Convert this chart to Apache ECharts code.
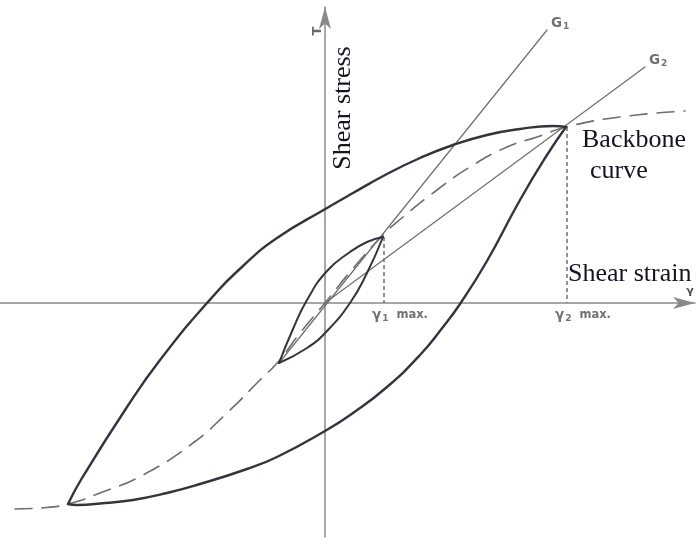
<!DOCTYPE html>
<html>
<head>
<meta charset="utf-8">
<script src="https://cdn.jsdelivr.net/npm/echarts@6/dist/echarts.min.js"></script>
<style>
html, body { margin: 0; padding: 0; background: #ffffff; }
#chart { width: 700px; height: 548px; }
</style>
</head>
<body>
<div id="chart"></div>
<script>
// Cyclic shear behaviour: hysteresis loops, backbone curve and secant moduli
// Coordinates are [shear strain γ, shear stress τ] in arbitrary units.

const backboneCurve = [
  [-31.0, -20.6], [-28.5, -20.5], [-25.7, -20.1], [-22.5, -19.0], [-18.2, -17.2],
  [-13.2, -14.0], [-9.8, -11.0], [-6.5, -7.7], [-4.7, -5.9], [-2.5, -3.0],
  [0, 0], [2.5, 3.1], [5.8, 6.8], [7.8, 8.6], [11.2, 11.3], [14.5, 13.6],
  [18.2, 15.6], [21.2, 16.6], [24.1, 17.6], [29.5, 18.6], [36.0, 19.2]
];

const largeLoopUpper = [
  [-25.7, -20.1], [-24.3, -17.5], [-19.8, -10.4], [-16.5, -5.7], [-11.8, 0],
  [-8.2, 3.7], [-4.8, 6.5], [0.2, 9.5], [2.8, 11.0], [6.2, 12.9], [9.5, 14.5],
  [12.8, 15.8], [16.2, 16.8], [19.5, 17.4], [22.8, 17.7], [24.1, 17.6]
];

const largeLoopLower = [
  [-25.7, -20.1], [-24.8, -20.2], [-22.0, -20.0], [-19.2, -19.7], [-15.8, -19.0],
  [-12.5, -18.1], [-7.8, -16.6], [-4.8, -15.4], [0, -12.8], [2.8, -11.0],
  [6.2, -8.4], [9.5, -5.2], [11.8, -2.4], [13.5, -0.1], [16.2, 4.2],
  [19.5, 10.3], [22.2, 14.8], [24.1, 17.6]
];

const smallLoopUpper = [
  [-4.6, -6.0], [-3.2, -2.6], [-1.8, 0.3], [0.2, 3.2], [2.5, 5.1], [4.2, 6.1], [5.8, 6.6]
];

const smallLoopLower = [
  [-4.6, -6.0], [-1.8, -4.5], [0.2, -2.8], [2.5, 0.0], [4.2, 3.0], [5.8, 6.6]
];

const secantG1 = [[-4.6, -6.0], [22.2, 27.3]];
const secantG2 = [[0, 0], [32.0, 23.6]];

// peak strains and the stresses reached there
const strainMax = [5.9, 24.2];
const stressAtMax = [6.6, 17.6];

// tick labels under the strain axis and secant names
const tickSymbol = ['γ', 'γ'];
const tickIndex = ['1', '2'];
const tickSuffix = ['max.', 'max.'];
const secantName = ['G', 'G'];
const secantIndex = ['1', '2'];

const loopColor = '#34343f';
const thinColor = '#6e6e6e';
const labelGrey = '#4e4e4e';

const chart = echarts.init(document.getElementById('chart'), null, { renderer: 'canvas' });

function curve(data, color, width, dash, smooth) {
  return {
    type: 'line',
    data: data,
    symbol: 'none',
    showSymbol: false,
    smooth: smooth,
    clip: false,
    silent: true,
    lineStyle: {
      color: color,
      width: width,
      type: dash || 'solid',
      cap: 'round',
      join: 'round'
    },
    z: 3
  };
}

const series = [];

// backbone (dashed)
series.push(curve(backboneCurve, thinColor, 1.6, [17, 10], 0.5));

// secant lines
series.push(curve(secantG1, thinColor, 1.2, null, false));
series.push(curve(secantG2, thinColor, 1.2, null, false));

// dashed verticals from each peak down to the strain axis
strainMax.forEach(function (g, i) {
  series.push({
    type: 'line',
    data: [[g, stressAtMax[i]], [g, 0]],
    symbol: 'none',
    silent: true,
    clip: false,
    lineStyle: { color: '#7a7a7a', width: 1.6, type: [4, 3] },
    z: 2
  });
});

// loops
series.push(curve(largeLoopUpper, loopColor, 2.4, null, 0.5));
series.push(curve(largeLoopLower, loopColor, 2.4, null, 0.5));
series.push(curve(smallLoopUpper, loopColor, 2.0, null, 0.5));
series.push(curve(smallLoopLower, loopColor, 2.0, null, 0.5));

const rich = {
  g: { fontFamily: 'DejaVu Sans', fontSize: 13.5, fontWeight: 'bold', color: labelGrey, lineHeight: 16 },
  s: { fontFamily: 'DejaVu Sans', fontSize: 9, fontWeight: 'bold', color: labelGrey, lineHeight: 16, verticalAlign: 'bottom', padding: [8, 0, 0, 1] },
  m: { fontFamily: 'DejaVu Sans', fontSize: 11.5, fontWeight: 'bold', color: labelGrey, lineHeight: 16, padding: [0, 0, 0, 8] }
};

// strain tick labels
series.push({
  type: 'scatter',
  symbolSize: 0,
  silent: true,
  data: strainMax.map(function (g) { return [g, 0]; }),
  label: {
    show: true,
    position: [-12, 4],
    align: 'left',
    verticalAlign: 'top',
    formatter: function (p) {
      const i = p.dataIndex;
      return '{g|' + tickSymbol[i] + '}{s|' + tickIndex[i] + '}{m|' + tickSuffix[i] + '}';
    },
    rich: rich
  },
  z: 5
});

// secant names at line ends
series.push({
  type: 'scatter',
  symbolSize: 0,
  silent: true,
  data: [secantG1[1], secantG2[1]],
  label: {
    show: true,
    position: [4, -15],
    align: 'left',
    verticalAlign: 'top',
    formatter: function (p) {
      const i = p.dataIndex;
      return '{g|' + secantName[i] + '}{s|' + secantIndex[i] + '}';
    },
    rich: rich
  },
  z: 5
});

const axisCommon = {
  type: 'value',
  axisTick: { show: false },
  axisLabel: { show: false },
  splitLine: { show: false },
  axisLine: {
    show: true,
    onZero: true,
    symbol: ['none', 'arrow'],
    symbolSize: [9, 22],
    lineStyle: { color: '#8a8a8a', width: 1.5 }
  }
};

const serif = '"Liberation Serif", "DejaVu Serif", serif';

chart.setOption({
  animation: false,
  backgroundColor: '#ffffff',
  grid: { left: 0, right: 5, top: 7, bottom: 11, containLabel: false },
  xAxis: Object.assign({}, axisCommon, { min: -32.5, max: 37.0 }),
  yAxis: Object.assign({}, axisCommon, { min: -23.4, max: 29.6 }),
  series: series,
  graphic: [
    {
      type: 'text', x: 343, y: 108, rotation: Math.PI / 2, silent: true,
      style: { text: 'Shear stress', font: '26px ' + serif, fill: '#141420', align: 'center', verticalAlign: 'middle' }
    },
    {
      type: 'text', x: 582, y: 140, silent: true,
      style: { text: 'Backbone', font: '26px ' + serif, fill: '#141420', align: 'left', verticalAlign: 'middle' }
    },
    {
      type: 'text', x: 590, y: 171, silent: true,
      style: { text: 'curve', font: '26px ' + serif, fill: '#141420', align: 'left', verticalAlign: 'middle' }
    },
    {
      type: 'text', x: 568, y: 274, silent: true,
      style: { text: 'Shear strain', font: '26px ' + serif, fill: '#141420', align: 'left', verticalAlign: 'middle' }
    },
    {
      type: 'text', x: 690, y: 291, silent: true,
      style: { text: 'γ', font: 'bold 11px "DejaVu Sans"', fill: labelGrey, align: 'center', verticalAlign: 'middle' }
    },
    {
      type: 'text', x: 318, y: 31, rotation: Math.PI / 2, silent: true,
      style: { text: 'T', font: 'bold 13px "DejaVu Sans"', fill: '#6a6a6a', align: 'center', verticalAlign: 'middle' }
    }
  ]
});
</script>
</body>
</html>
